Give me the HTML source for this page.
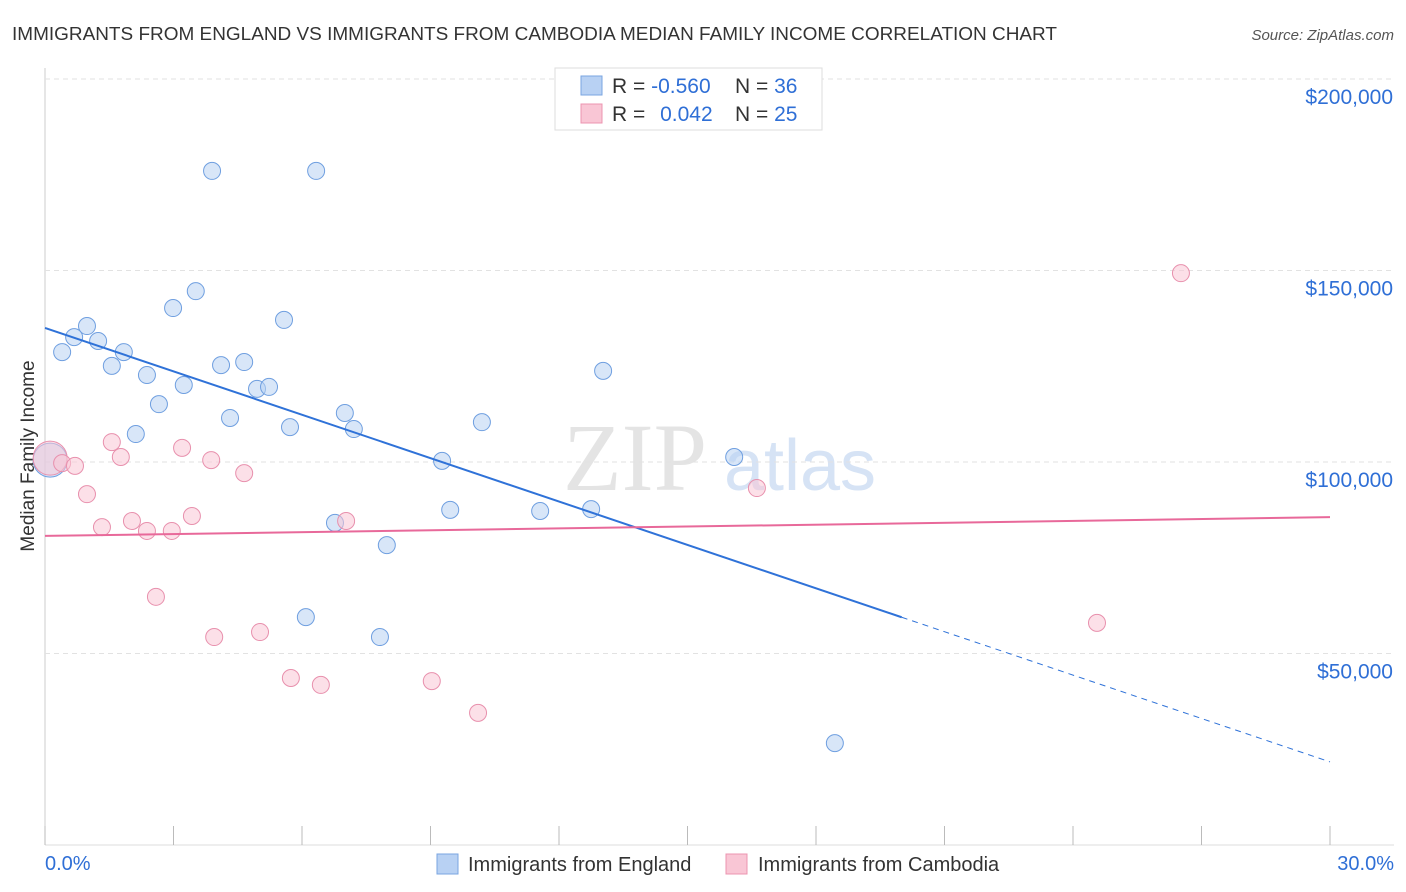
<!DOCTYPE html>
<html><head><meta charset="utf-8"><style>
body{margin:0;background:#fff;font-family:"Liberation Sans",sans-serif;}
svg{display:block}
</style></head><body>
<svg id="chart" width="1406" height="892" xmlns="http://www.w3.org/2000/svg">
<text x="12" y="40" font-size="18" fill="#333" textLength="1045" lengthAdjust="spacingAndGlyphs">IMMIGRANTS FROM ENGLAND VS IMMIGRANTS FROM CAMBODIA MEDIAN FAMILY INCOME CORRELATION CHART</text>
<text x="1394" y="40" font-size="15" fill="#555" font-style="italic" text-anchor="end">Source: ZipAtlas.com</text>
<text x="635" y="490" font-size="96" fill="#e4e4e4" font-family="Liberation Serif,serif" text-anchor="middle">ZIP</text>
<text x="800" y="490" font-size="72" fill="#d6e3f5" text-anchor="middle">atlas</text>
<text transform="translate(34,456) rotate(-90)" font-size="19" fill="#333" text-anchor="middle">Median Family Income</text>
<g id="grid"></g><g id="marks"></g>
<g>
<rect x="555" y="68" width="267" height="62" fill="#fff" stroke="#ddd"/>
<rect x="581" y="76" width="21" height="19" fill="#b8d1f3" stroke="#7aa5e0"/>
<rect x="581" y="104" width="21" height="19" fill="#f9c6d5" stroke="#ec94b0"/>
<text x="612" y="93" font-size="21" fill="#333">R = <tspan fill="#2f6fd6">-0.560</tspan></text>
<text x="735" y="93" font-size="21" fill="#333">N = <tspan fill="#2f6fd6">36</tspan></text>
<text x="612" y="121" font-size="21" fill="#333">R = <tspan fill="#2f6fd6" dx="9">0.042</tspan></text>
<text x="735" y="121" font-size="21" fill="#333">N = <tspan fill="#2f6fd6">25</tspan></text>
</g>
<g>
<rect x="437" y="854" width="21" height="20" fill="#b8d1f3" stroke="#7aa5e0"/>
<text x="468" y="871" font-size="20" fill="#333">Immigrants from England</text>
<rect x="726" y="854" width="21" height="20" fill="#f9c6d5" stroke="#ec94b0"/>
<text x="758" y="871" font-size="20" fill="#333">Immigrants from Cambodia</text>
</g>
</svg>
<script>
const blueX=[0.12,0.40,0.68,0.98,1.24,1.56,1.84,2.12,2.38,2.66,2.99,3.24,3.52,3.90,4.11,4.32,4.65,4.95,5.23,5.58,5.72,6.33,6.77,7.00,7.21,7.98,7.82,6.09,9.27,9.46,10.20,11.56,12.75,13.03,16.09,18.44];
const blueY=[100500,128700,132600,135500,131600,125100,128700,107300,122700,115100,140200,120100,144600,176000,125300,111500,126100,119100,119600,137100,109100,176000,84100,112800,108600,78300,54300,59500,100300,87500,110400,87200,87700,123800,101300,26600];
const pinkX=[0.12,0.40,0.70,0.98,1.33,1.56,1.77,2.03,2.38,2.59,2.96,3.20,3.43,3.88,3.95,4.65,5.02,5.74,6.44,7.03,9.03,10.11,16.62,24.56,26.52];
const pinkY=[101000,99700,99000,91600,83000,105200,101300,84600,82000,64800,82000,103700,85900,100500,54300,97100,55600,43600,41800,84600,42800,34500,93200,58000,149300];
const blueTrend=[135000,21700];
const pinkTrend=[80700,85600];
const yTicks=[50000,100000,150000,200000];
const yTickLabels=["$50,000","$100,000","$150,000","$200,000"];
const xTicks=[0,3,6,9,12,15,18,21,24,27,30];
const NS="http://www.w3.org/2000/svg";
const sx=v=>45+v/30*1285;
const sy=v=>845-v/50000*191.5;
function mk(tag,attrs,parent){const e=document.createElementNS(NS,tag);for(const k in attrs)e.setAttribute(k,attrs[k]);parent.appendChild(e);return e;}
const grid=document.getElementById('grid'),marks=document.getElementById('marks');
let ax=mk('line',{x1:45,y1:68,x2:45,y2:845,stroke:'#ccc'},grid);


yTicks.forEach((t,i)=>{
 let l=mk('line',{x1:45,x2:1394,y1:sy(t),y2:sy(t),stroke:'#e2e2e2','stroke-dasharray':'5,4'},grid);
 
 
 let tx=mk('text',{x:1393,y:sy(t)+25,'font-size':21,fill:'#2f6fd6','text-anchor':'end'},grid);
 tx.textContent=yTickLabels[i];
 
 
});
let bl=mk('line',{x1:45,x2:1394,y1:845,y2:845,stroke:'#ddd'},grid);


xTicks.forEach(t=>{
 let l=mk('line',{x1:sx(t),x2:sx(t),y1:826,y2:845,stroke:'#bbb'},grid);
 
 
});
let x0=mk('text',{x:45,y:870,'font-size':20,fill:'#2f6fd6'},grid);x0.textContent='0.0%';


let x1=mk('text',{x:1394,y:870,'font-size':20,fill:'#2f6fd6','text-anchor':'end'},grid);x1.textContent='30.0%';


function pts(X,Y,fill,stroke,name){
 X.forEach((x,i)=>{
  const r=i===0?17:8.5;
  let c=mk('circle',{cx:sx(x),cy:sy(Y[i]),r:r,fill:fill,'fill-opacity':0.55,stroke:stroke,'stroke-width':1},marks);
  
  
 });
}
pts(blueX,blueY,'#b8d1f3','#6f9fe0','england-point');
pts(pinkX,pinkY,'#f9c6d5','#e890ad','cambodia-point');
const bAt=x=>blueTrend[0]+(blueTrend[1]-blueTrend[0])*x/30;
let t1=mk('line',{x1:sx(0),y1:sy(bAt(0)),x2:sx(20),y2:sy(bAt(20)),stroke:'#2f72d8','stroke-width':2},marks);


let t2=mk('line',{x1:sx(20),y1:sy(bAt(20)),x2:sx(30),y2:sy(bAt(30)),stroke:'#2f72d8','stroke-width':1,'stroke-dasharray':'6,5'},marks);


let t3=mk('line',{x1:sx(0),y1:sy(pinkTrend[0]),x2:sx(30),y2:sy(pinkTrend[1]),stroke:'#e8699a','stroke-width':2},marks);


</script>
</body></html>
